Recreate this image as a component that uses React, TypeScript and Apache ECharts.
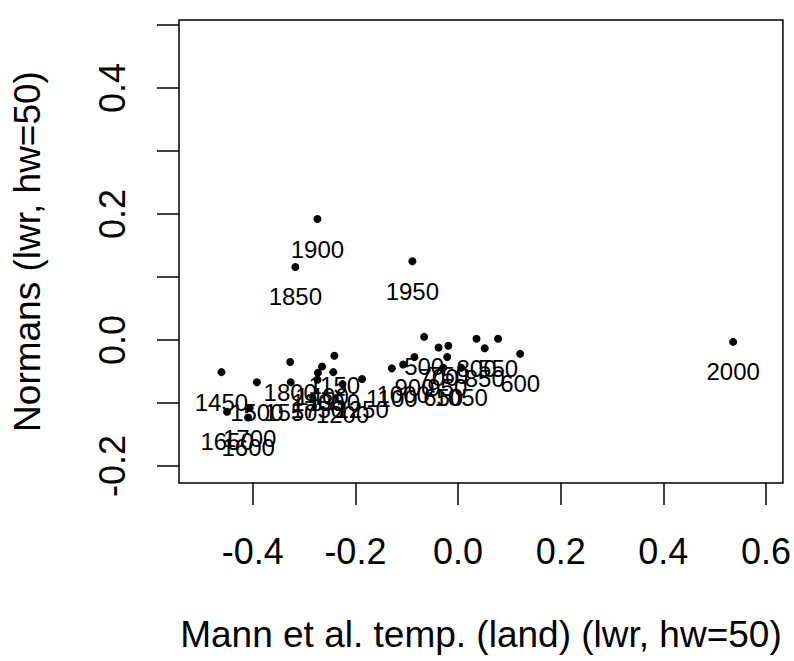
import React, { useEffect, useRef } from "react";
import * as echarts from "echarts";

const years = [500, 550, 600, 650, 700, 750, 800, 850, 900, 950, 1000, 1050, 1100, 1150, 1200, 1250, 1300, 1350, 1400, 1450, 1500, 1550, 1600, 1650, 1700, 1750, 1800, 1850, 1900, 1950, 2000];
const mannTemp = [-0.066, 0.078, 0.121, -0.029, -0.038, -0.019, 0.036, 0.052, -0.085, -0.021, -0.107, 0.006, -0.129, -0.241, -0.225, -0.187, -0.273, -0.243, -0.265, -0.461, -0.392, -0.326, -0.409, -0.45, -0.406, -0.274, -0.327, -0.317, -0.274, -0.089, 0.536];
const normans = [0.005, 0.002, -0.022, -0.044, -0.012, -0.009, 0.002, -0.013, -0.027, -0.027, -0.039, -0.044, -0.045, -0.025, -0.07, -0.062, -0.052, -0.051, -0.042, -0.051, -0.067, -0.067, -0.123, -0.114, -0.108, -0.063, -0.035, 0.116, 0.192, 0.125, -0.003];

const xTicks = [-0.4, -0.2, 0.0, 0.2, 0.4, 0.6];
const yTicks = [-0.2, -0.1, 0.0, 0.1, 0.2, 0.3, 0.4, 0.5];
const yLabels = [-0.2, 0.0, 0.2, 0.4];

const xTitle = "Mann et al. temp. (land) (lwr, hw=50)";
const yTitle = "Normans (lwr, hw=50)";

export default function App() {
  const ref = useRef<HTMLDivElement>(null);
  useEffect(() => {
    if (!ref.current) return;
    const chart = echarts.init(ref.current, null, { renderer: "svg" });
    const font = "Liberation Sans, Arial, Helvetica, sans-serif";
    const data = years.map((yr, i) => [mannTemp[i], normans[i], yr]);
    chart.setOption({
      animation: false,
      backgroundColor: "#ffffff",
      grid: {
        left: 179,
        right: 9,
        top: 20,
        bottom: 178,
        show: true,
        borderColor: "#000",
        borderWidth: 1.5,
        backgroundColor: "transparent",
      },
      xAxis: {
        type: "value",
        min: -0.5437,
        max: 0.633,
        name: xTitle,
        nameLocation: "middle",
        nameGap: 133,
        nameTextStyle: { fontFamily: font, fontSize: 37, color: "#000" },
        axisLine: { show: false, onZero: false },
        splitLine: { show: false },
        axisTick: {
          show: true,
          inside: false,
          length: 22,
          customValues: xTicks,
          lineStyle: { color: "#000", width: 1.5 },
        },
        axisLabel: {
          show: true,
          customValues: xTicks,
          margin: 50,
          fontFamily: font,
          fontSize: 36,
          color: "#000",
          formatter: (v: number) => v.toFixed(1),
        },
      },
      yAxis: {
        type: "value",
        min: -0.227,
        max: 0.508,
        name: yTitle,
        nameLocation: "middle",
        nameGap: 133,
        nameTextStyle: { fontFamily: font, fontSize: 37, color: "#000" },
        axisLine: { show: false, onZero: false },
        splitLine: { show: false },
        axisTick: {
          show: true,
          inside: false,
          length: 22,
          customValues: yTicks,
          lineStyle: { color: "#000", width: 1.5 },
        },
        axisLabel: {
          show: true,
          customValues: yLabels,
          rotate: 90,
          margin: 49,
          fontFamily: font,
          fontSize: 36,
          color: "#000",
          formatter: (v: number) => v.toFixed(1),
        },
      },
      series: [
        {
          type: "scatter",
          data,
          symbol: "circle",
          symbolSize: 8,
          itemStyle: { color: "#000", opacity: 1 },
          label: {
            show: true,
            position: "bottom",
            distance: 14,
            fontFamily: font,
            fontSize: 24,
            color: "#000",
            opacity: 1,
            formatter: (p: any) => String(p.value[2]),
          },
          labelLayout: { hideOverlap: false },
          emphasis: { disabled: true },
        },
      ],
    });
    return () => chart.dispose();
  }, []);
  return (
    <div
      ref={ref}
      style={{ position: "fixed", left: 0, top: 0, width: 794, height: 661, background: "#fff" }}
    />
  );
}
